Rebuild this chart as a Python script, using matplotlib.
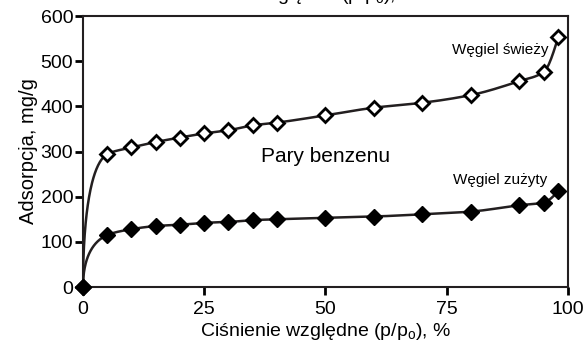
"""
Izotermy adsorpcji par benzenu - wegiel swiezy i zuzyty
"""
import numpy as np
import matplotlib.pyplot as plt

plt.rcParams['font.family'] = ['Liberation Sans', 'DejaVu Sans']

# Dane
p_rel = [0, 5, 10, 15, 20, 25, 30, 35, 40, 50, 60, 70, 80, 90, 95, 98]
ads_swiezy = [0, 294, 309, 321, 331, 340, 347, 358, 364, 380, 397, 408, 425, 456, 476, 553]
ads_zuzyty = [0, 115, 128, 135, 138, 142, 144, 148, 150, 153, 156, 161, 167, 181, 187, 212]

x_ticks = [0, 25, 50, 75, 100]
y_ticks = [0, 100, 200, 300, 400, 500, 600]


def pchip(x, y, xn):
    # monotoniczna interpolacja Hermite'a (jak PCHIP) - tylko do rysowania linii
    x = np.asarray(x, float)
    y = np.asarray(y, float)
    h = np.diff(x)
    d = np.diff(y) / h
    m = np.zeros_like(y)
    for k in range(1, len(x) - 1):
        if d[k - 1] * d[k] > 0:
            w1 = 2 * h[k] + h[k - 1]
            w2 = h[k] + 2 * h[k - 1]
            m[k] = (w1 + w2) / (w1 / d[k - 1] + w2 / d[k])
    m[0] = ((2 * h[0] + h[1]) * d[0] - h[0] * d[1]) / (h[0] + h[1])
    if np.sign(m[0]) != np.sign(d[0]):
        m[0] = 0
    m[-1] = ((2 * h[-1] + h[-2]) * d[-1] - h[-1] * d[-2]) / (h[-1] + h[-2])
    if np.sign(m[-1]) != np.sign(d[-1]):
        m[-1] = 0
    idx = np.clip(np.searchsorted(x, xn) - 1, 0, len(x) - 2)
    t = (xn - x[idx]) / h[idx]
    h00 = 2 * t**3 - 3 * t**2 + 1
    h10 = t**3 - 2 * t**2 + t
    h01 = -2 * t**3 + 3 * t**2
    h11 = t**3 - t**2
    return h00 * y[idx] + h10 * h[idx] * m[idx] + h01 * y[idx + 1] + h11 * h[idx] * m[idx + 1]


# interpolacja w zmiennej sqrt(p) -> stromy poczatek krzywej
u = np.sqrt(p_rel)
u_fine = np.linspace(0, u[-1], 400)
p_fine = u_fine**2

fig = plt.figure(figsize=(5.87, 3.42), dpi=100)
ax = fig.add_axes([0.1414, 0.1608, 0.8262, 0.7924])

line_col = '#231f20'
ax.plot(p_fine, pchip(u, ads_swiezy, u_fine), color=line_col, lw=1.8, zorder=2)
ax.plot(p_fine, pchip(u, ads_zuzyty, u_fine), color=line_col, lw=1.8, zorder=2)
ax.plot(p_rel, ads_swiezy, linestyle='none', marker='D', ms=7.5, mfc='white',
        mec='black', mew=2, zorder=3, clip_on=False)
ax.plot(p_rel, ads_zuzyty, linestyle='none', marker='D', ms=8.5, mfc='black',
        mec='black', mew=1, zorder=3, clip_on=False)

ax.text(36.8, 288, 'Pary benzenu', fontsize=15, va='center', ha='left')
ax.text(95.9, 525, 'Węgiel świeży', fontsize=11, va='center', ha='right')
ax.text(95.7, 237, 'Węgiel zużyty', fontsize=11, va='center', ha='right')

ax.set_xlim(0, 100)
ax.set_ylim(0, 600)
ax.set_xticks(x_ticks)
ax.set_yticks(y_ticks)
ax.tick_params(direction='out', length=6, width=2, labelsize=14)
ax.tick_params(axis='x', pad=4)
ax.tick_params(axis='y', pad=1)
for s in ax.spines.values():
    s.set_linewidth(1.5)
    s.set_color(line_col)

ax.set_xlabel('Ciśnienie względne (p/p$_\\mathregular{o}$), %', fontsize=14, labelpad=2)
ax.set_ylabel('Adsorpcja, mg/g', fontsize=14.5, labelpad=2)

# obciety podpis osi z wykresu powyzej
fig.text(0.5, 1.0, 'Ciśnienie względne (p/p$_\\mathregular{o}$), %', fontsize=14,
         ha='center', va='baseline')

fig.savefig('out.png', dpi=100)
